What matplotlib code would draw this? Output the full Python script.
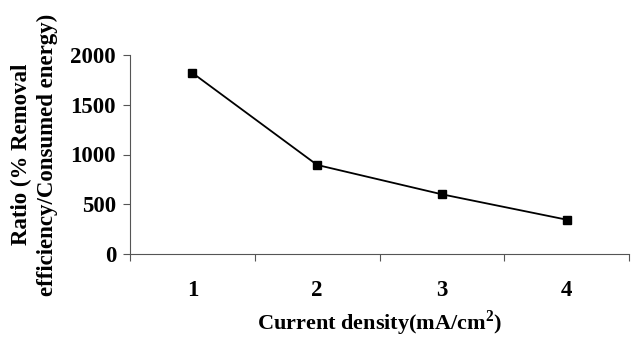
import matplotlib
matplotlib.use("Agg")
import matplotlib.pyplot as plt

categories = ["1", "2", "3", "4"]
ratio = [1820, 895, 600, 345]
y_ticks = [0, 500, 1000, 1500, 2000]

plt.rcParams["font.family"] = ["Liberation Serif", "DejaVu Serif"]
plt.rcParams["font.weight"] = "bold"
plt.rcParams["mathtext.fontset"] = "custom"
plt.rcParams["mathtext.bf"] = "Liberation Serif:bold"
plt.rcParams["mathtext.rm"] = "Liberation Serif:bold"

fig = plt.figure(figsize=(6.44, 3.38), dpi=100)
ax = fig.add_axes([130 / 644, 1 - 254 / 338, 499 / 644, 199 / 338])

x = [i + 0.5 for i in range(len(categories))]
ax.plot(x, ratio, color="black", lw=1.3, marker="s", markersize=6,
        markerfacecolor="black", markeredgecolor="black")

ax.set_xlim(0, len(categories))
ax.set_ylim(0, 2000)
ax.set_yticks(y_ticks)
ax.set_yticklabels([str(v) for v in y_ticks], fontsize=16.5, fontweight="bold")
ax.set_xticks(range(len(categories) + 1))
ax.set_xticklabels([])
ax.set_xticks(x, minor=True)
ax.set_xticklabels(categories, minor=True, fontsize=16.5, fontweight="bold")
ax.tick_params(axis="x", which="minor", length=0, pad=19)
ax.tick_params(axis="x", which="major", length=5, width=0.8, color="#555555", direction="out")
ax.tick_params(axis="y", length=5, width=0.8, color="#555555", direction="out", pad=5)

for side in ("top", "right"):
    ax.spines[side].set_visible(False)
for side in ("left", "bottom"):
    ax.spines[side].set_color("#555555")
    ax.spines[side].set_linewidth(0.8)

ax.set_xlabel("Current density(mA/cm$^{2}$)", fontsize=16, fontweight="bold", labelpad=5)
ax.set_ylabel("Ratio (% Removal\nefficiency/Consumed energy)", fontsize=16.5,
              fontweight="bold", labelpad=9, linespacing=1.3)

fig.savefig("out.png", dpi=100)
